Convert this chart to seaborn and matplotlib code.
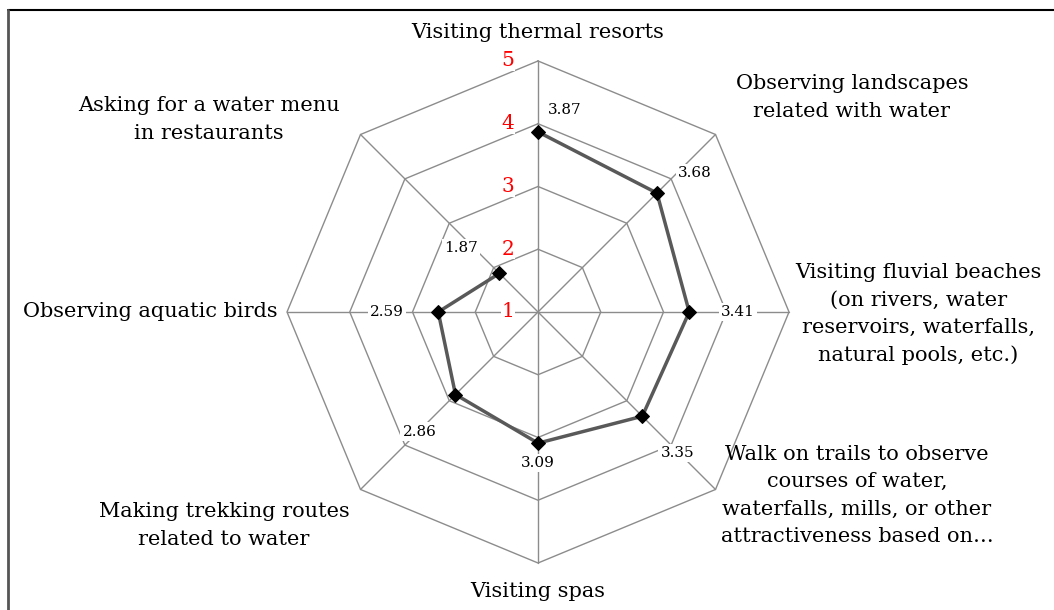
import numpy as np
import pandas as pd
import matplotlib.pyplot as plt
import seaborn as sns
from matplotlib.lines import Line2D

# categories clockwise from the top
categories = [
    'Visiting thermal resorts',
    'Observing landscapes\nrelated with water',
    'Visiting fluvial beaches\n(on rivers, water\nreservoirs, waterfalls,\nnatural pools, etc.)',
    'Walk on trails to observe\ncourses of water,\nwaterfalls, mills, or other\nattractiveness based on\u2026',
    'Visiting spas',
    'Making trekking routes\nrelated to water',
    'Observing aquatic birds',
    'Asking for a water menu\nin restaurants',
]
values = [3.87, 3.68, 3.41, 3.35, 3.09, 2.86, 2.59, 1.87]
levels = [1, 2, 3, 4, 5]

# label placement (offsets in pixels from point / vertex)
val_offsets = [(27, 22), (38, 20), (49, 0), (35, -37), (0, -20), (-36, -37), (-51, 0), (-38, 25)]
cat_offsets = [(0, 28), (20, 37), (6, -2), (5, -6), (0, -29), (-11, -36), (-9, 0), (-21, 15)]
cat_ha = ['center', 'left', 'left', 'left', 'center', 'right', 'right', 'right']

sns.set_theme(style='white')
plt.rcParams['font.family'] = ['DejaVu Serif']

n = len(categories)
theta = np.linspace(0, 2 * np.pi, n, endpoint=False)
theta_c = np.append(theta, theta[0])

fig = plt.figure(figsize=(10.54, 6.10), dpi=100)
ax = fig.add_axes([0.2723, 0.07705, 0.4763, 0.823], projection='polar')
ax.set_theta_zero_location('N')
ax.set_theta_direction(-1)
ax.set_ylim(1, 5)
ax.grid(False)
ax.spines['polar'].set_visible(False)
ax.patch.set_visible(False)
ax.set_xticks([])
ax.set_yticks([])

grid_col = '#8c8c8c'
for lv in levels[1:]:
    ax.plot(theta_c, [lv] * (n + 1), color=grid_col, lw=1, clip_on=False, zorder=1)
for t in theta:
    ax.plot([t, t], [1, 5], color=grid_col, lw=1, clip_on=False, zorder=1)

df = pd.DataFrame({'theta': theta_c, 'value': values + values[:1]})
sns.lineplot(data=df, x='theta', y='value', sort=False, ax=ax, color='#595959', lw=2.5,
             marker='D', markersize=7, markerfacecolor='black', markeredgecolor='black',
             zorder=4, clip_on=False)
ax.set_xlabel('')
ax.set_ylabel('')

box = dict(facecolor='white', edgecolor='none', pad=1.5)
for t, v, off in zip(theta, values, val_offsets):
    ax.annotate(f'{v:.2f}', (t, v), xytext=off, textcoords='offset pixels',
                ha='center', va='center', fontsize=11, color='black', bbox=box, zorder=3)

for lv in levels:
    ax.annotate(str(lv), (0, lv), xytext=(-30, 0), textcoords='offset pixels',
                ha='center', va='center', fontsize=14.5, color='red',
                bbox=dict(facecolor='white', edgecolor='none', pad=0.5), zorder=3)

for t, lab, off, ha in zip(theta, categories, cat_offsets, cat_ha):
    ax.annotate(lab, (t, 5), xytext=off, textcoords='offset pixels',
                ha=ha, va='center', multialignment='center', fontsize=15,
                linespacing=1.55, color='black', annotation_clip=False)

# frame around the figure (only top and left edges visible in the crop)
fig.add_artist(Line2D([8 / 1054, 1], [1 - 10 / 610, 1 - 10 / 610], color='black', lw=1.5,
                      transform=fig.transFigure))
fig.add_artist(Line2D([8 / 1054, 8 / 1054], [0, 1 - 10 / 610], color='#555555', lw=2,
                      transform=fig.transFigure))

fig.savefig('out.png', dpi=100)
